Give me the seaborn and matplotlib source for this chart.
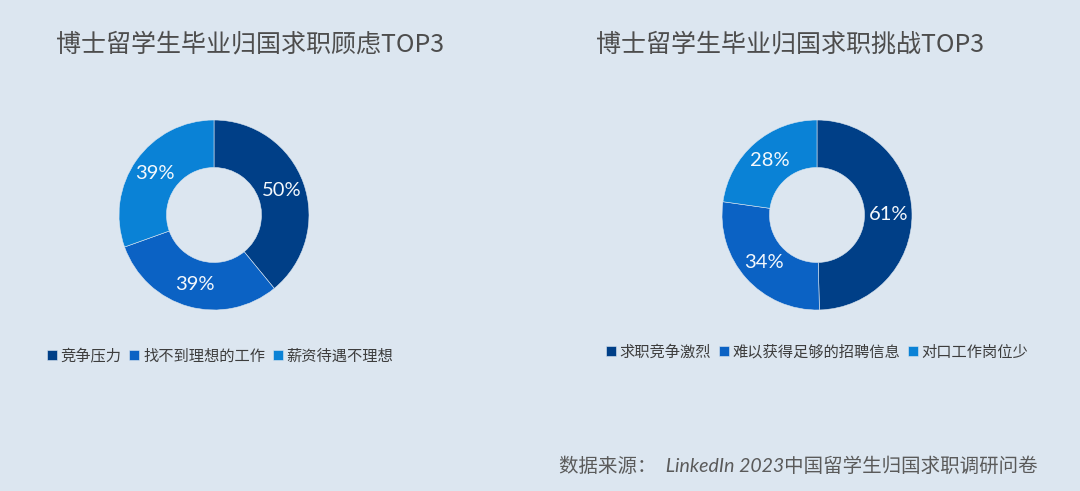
import numpy as np
import matplotlib
matplotlib.use("Agg")
import matplotlib.pyplot as plt
import seaborn as sns

# data
left_title = "博士留学生毕业归国求职顾虑TOP3"
left_labels = ["竞争压力", "找不到理想的工作", "薪资待遇不理想"]
left_values = [50, 39, 39]

right_title = "博士留学生毕业归国求职挑战TOP3"
right_labels = ["求职竞争激烈", "难以获得足够的招聘信息", "对口工作岗位少"]
right_values = [61, 34, 28]

source_text = "数据来源：  LinkedIn 2023中国留学生归国求职调研问卷"

BG = "#dce6f0"
palette = sns.color_palette(["#003f87", "#0b62c4", "#0a82d6"])

sns.set_theme(style="white")
plt.rcParams['font.family'] = ['Noto Sans CJK SC', 'DejaVu Sans']

W, H = 1080, 491
fig = plt.figure(figsize=(W / 100, H / 100), dpi=100, facecolor=BG)


def px_axes(cx, cy, r):
    # axes box in pixel coords (top-left origin) around donut centre
    return fig.add_axes([(cx - r) / W, (H - cy - r) / H, 2 * r / W, 2 * r / H])


def draw_donut(cx, cy, values, labels, title, title_x, legend_x, legend_y):
    ax = px_axes(cx, cy, 95)
    ax.set_facecolor(BG)
    wedges, _ = ax.pie(values, colors=palette, startangle=90, counterclock=False,
                       radius=1.0, wedgeprops=dict(width=0.5, edgecolor=BG, linewidth=0.4))
    ax.set_xlim(-1, 1)
    ax.set_ylim(-1, 1)
    ax.axis('off')
    for w, v in zip(wedges, values):
        ang = np.deg2rad((w.theta1 + w.theta2) / 2)
        ax.text(0.755 * np.cos(ang), 0.755 * np.sin(ang), f"{v}%",
                ha='center', va='center', color='#f4f8fc', fontsize=14.5,
                family=['Lato', 'DejaVu Sans'], fontweight='normal')
    fig.text(title_x / W, 1 - 45 / H, title, ha='center', va='center',
             fontsize=18, color='#4d4d4d')
    fig.legend(wedges, labels, loc='center left',
               bbox_to_anchor=(legend_x / W, 1 - legend_y / H), ncol=3,
               frameon=False, fontsize=11, handlelength=0.65, handleheight=0.65,
               handletextpad=0.25, columnspacing=0.5, borderpad=0, borderaxespad=0,
               labelcolor='#3d3d3d')


draw_donut(214, 215, left_values, left_labels, left_title, 250, 47, 356)
draw_donut(817, 215, right_values, right_labels, right_title, 790, 606, 352)

fig.text(1038 / W, 1 - 466 / H, source_text, ha='right', va='center',
         fontsize=14, color='#5a5a5a', style='italic',
         family=['Lato', 'Noto Sans CJK SC'])

fig.savefig("out.png", dpi=100, facecolor=BG)
